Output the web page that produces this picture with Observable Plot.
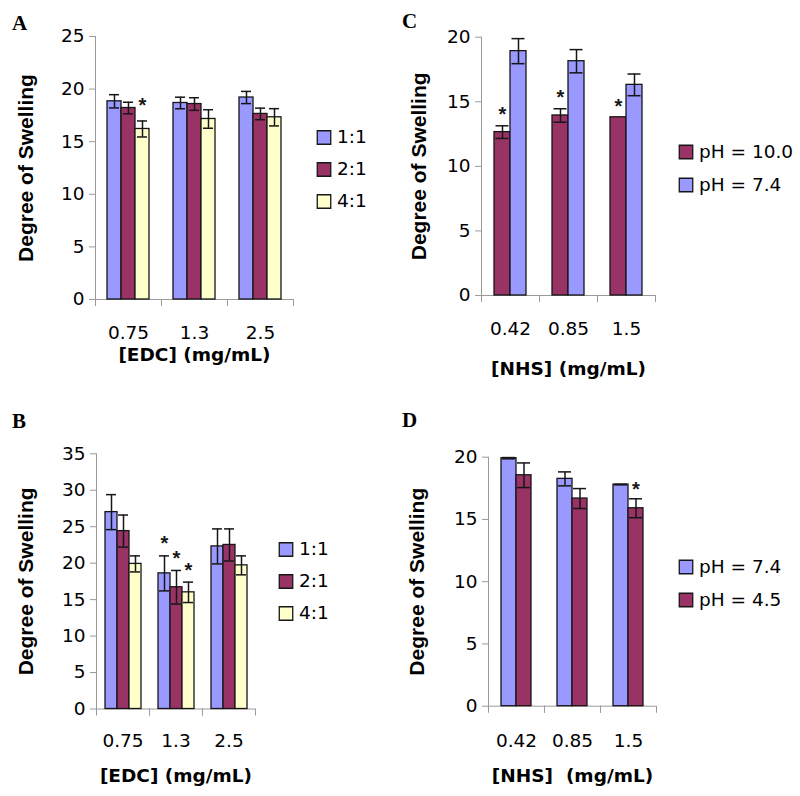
<!DOCTYPE html>
<html>
<head>
<meta charset="utf-8">
<script src="https://cdn.jsdelivr.net/npm/d3@7"></script>
<script src="https://cdn.jsdelivr.net/npm/@observablehq/plot@0.6"></script>
<style>
  html, body { margin: 0; padding: 0; background: #fff; }
  #fig { position: relative; width: 800px; height: 796px; overflow: hidden; background: #fff;
         font-family: "DejaVu Sans", sans-serif; }
  .slot { position: absolute; white-space: nowrap; }
  .slot svg { overflow: visible; max-width: none !important; }
  .letter { position: absolute; font-family: "Liberation Serif", "Times New Roman", serif;
            font-weight: bold; font-size: 21px; line-height: 1; color: #000; }
  g[aria-label="y-axis label"] text {
    font-family: "Liberation Sans", Arial, sans-serif; font-weight: bold; font-size: 21px; }
  g[aria-label="fx-axis label"] text {
    font-family: "DejaVu Sans", sans-serif; font-weight: bold; font-size: 18.5px; }
</style>
</head>
<body>
<div id="fig"></div>
<script>
// ---------- categories, series, labels ----------
const edcLevels = ["0.75", "1.3", "2.5"];
const nhsLevels = ["0.42", "0.85", "1.5"];
const ratioSeries = ["1:1", "2:1", "4:1"];
const phSeriesC = ["pH = 10.0", "pH = 7.4"];
const phSeriesD = ["pH = 7.4", "pH = 4.5"];
const yTitle = "Degree of Swelling";
const xTitleEDC = "[EDC] (mg/mL)";
const xTitleNHS = "[NHS] (mg/mL)";
const xTitleNHS2 = "[NHS]\u00a0 (mg/mL)";

// ---------- Panel A : ratio series vs [EDC] ----------
const aMean11 = [18.84, 18.68, 19.20];
const aErr11  = [0.63, 0.55, 0.58];
const aMean21 = [18.20, 18.58, 17.64];
const aErr21  = [0.55, 0.60, 0.55];
const aMean41 = [16.21, 17.16, 17.32];
const aErr41  = [0.76, 0.88, 0.82];
const aStar11 = [false, false, false];
const aStar21 = [false, false, false];
const aStar41 = [true, false, false];

// ---------- Panel B : ratio series vs [EDC] ----------
const bMean11 = [27.0, 18.6, 22.3];
const bErr11  = [2.4, 2.4, 2.4];
const bMean21 = [24.4, 16.7, 22.5];
const bErr21  = [2.2, 2.3, 2.2];
const bMean41 = [19.9, 16.0, 19.7];
const bErr41  = [1.1, 1.4, 1.3];
const bStar11 = [false, true, false];
const bStar21 = [false, true, false];
const bStar41 = [false, true, false];

// ---------- Panel C : pH 10.0 vs pH 7.4 over [NHS] ----------
const cMeanPH10 = [12.65, 13.94, 13.80];
const cErrPH10  = [0.49, 0.52, 0];
const cMeanPH74 = [18.92, 18.14, 16.31];
const cErrPH74  = [0.97, 0.90, 0.84];
const cStarPH10 = [true, true, true];
const cStarPH74 = [false, false, false];

// ---------- Panel D : pH 7.4 vs pH 4.5 over [NHS] ----------
const dMeanPH74 = [19.92, 18.26, 17.80];
const dErrPH74  = [0.05, 0.56, 0.02];
const dMeanPH45 = [18.55, 16.68, 15.90];
const dErrPH45  = [0.99, 0.80, 0.76];
const dStarPH74 = [false, false, false];
const dStarPH45 = [false, false, true];

// ---------- palette ----------
const blue = "#9999ff", maroon = "#993366", cream = "#ffffcc";
const ratioColors = [blue, maroon, cream];
const colorsC = [maroon, blue];
const colorsD = [blue, maroon];
const AXIS = "#9a9a9a";
const INK = "#161616";
const TICK_FONT = "DejaVu Sans, sans-serif";

function buildRows(cats, series, means, errs, stars) {
  const out = [];
  series.forEach((s, j) => cats.forEach((c, i) => {
    out.push({cat: c, series: s, value: means[j][i], err: errs[j][i], star: stars[j][i]});
  }));
  return out;
}

const fig = document.getElementById("fig");

function place(node, left, top, w, h) {
  const wrap = document.createElement("div");
  wrap.className = "slot";
  wrap.style.left = left + "px";
  wrap.style.top = top + "px";
  wrap.style.width = w + "px";
  wrap.style.height = h + "px";
  wrap.appendChild(node);
  fig.appendChild(wrap);
}

function drawPanel(o) {
  const W = o.right - o.svgLeft + 10;
  const H = o.svgH;
  const mL = o.axisX - o.svgLeft;
  const mT = o.topY - o.svgTop;
  const mB = o.svgTop + H - o.zeroY;
  const mR = W - (o.right - o.svgLeft);
  const innerH = o.zeroY - o.topY;
  const data = o.rows;
  const withErr = data.filter(d => d.err > 0);
  const chart = Plot.plot({
    width: W, height: H,
    marginLeft: mL, marginRight: mR, marginTop: mT, marginBottom: mB,
    style: {fontFamily: TICK_FONT, fontSize: "18.5px", color: "#000",
            background: "transparent", overflow: "visible", maxWidth: "none"},
    fx: {domain: o.cats, paddingInner: 0, paddingOuter: 0, axis: null},
    x: {domain: o.series, paddingInner: 0, paddingOuter: o.xPad, axis: null},
    y: {domain: [0, o.yMax], axis: null},
    color: {domain: o.series, range: o.colors},
    marks: [
      Plot.ruleY([0], {stroke: AXIS, strokeWidth: 1}),
      Plot.frame({anchor: "left", stroke: AXIS, strokeWidth: 1, facetAnchor: "left"}),
      Plot.frame({anchor: "left", stroke: AXIS, strokeWidth: 1, insetTop: innerH, insetBottom: -6}),
      Plot.frame({anchor: "right", stroke: AXIS, strokeWidth: 1, insetTop: innerH, insetBottom: -6}),
      Plot.axisY(d3.range(0, o.yMax + 1, 5), {
        tickSize: 6, tickPadding: 5, stroke: AXIS, fill: "#000", fontSize: 18.5, fontFamily: TICK_FONT,
        label: yTitle, labelAnchor: "center", labelOffset: o.yLabelOffset, labelArrow: false
      }),
      Plot.axisFx({
        anchor: "bottom", tickSize: 0, tickPadding: o.fxPad, fontSize: 18.5, fontFamily: TICK_FONT, fill: "#000",
        label: o.xLabel, labelAnchor: "center", labelOffset: o.fxLabelOffset, labelArrow: false
      }),
      Plot.barY(data, {fx: "cat", x: "series", y: "value", fill: "series", stroke: INK, strokeWidth: 1.3}),
      Plot.ruleX(withErr, {fx: "cat", x: "series", y1: d => d.value - d.err, y2: d => d.value + d.err,
                           stroke: INK, strokeWidth: 1.5}),
      Plot.tickY(withErr, {fx: "cat", x: "series", y: d => d.value + d.err, stroke: INK, strokeWidth: 1.5,
                           insetLeft: o.capInset, insetRight: o.capInset}),
      Plot.tickY(withErr, {fx: "cat", x: "series", y: d => d.value - d.err, stroke: INK, strokeWidth: 1.5,
                           insetLeft: o.capInset, insetRight: o.capInset}),
      Plot.text(data.filter(d => d.star), {fx: "cat", x: "series", y: d => d.value + d.err, text: () => "*",
                           dy: o.starDy, fontSize: 20, fontWeight: "bold", fill: INK,
                           fontFamily: "Liberation Sans, Arial, sans-serif"})
    ]
  });
  place(chart, o.svgLeft, o.svgTop, W, H);
}

function drawLegend(o) {
  const H = o.step * o.series.length;
  const W = 120;
  const chart = Plot.plot({
    width: W, height: H, margin: 0,
    style: {fontFamily: TICK_FONT, fontSize: "18.5px", color: "#000",
            background: "transparent", overflow: "visible", maxWidth: "none"},
    x: {axis: null},
    y: {type: "band", domain: o.series, padding: 0, axis: null},
    color: {domain: o.series, range: o.colors},
    marks: [
      Plot.dot(o.series, {y: d => d, frameAnchor: "left", dx: 7.5, symbol: "square", r: 7.6,
                          fill: d => d, stroke: INK, strokeWidth: 1.3}),
      Plot.text(o.series, {y: d => d, text: d => d, frameAnchor: "left", dx: 20.5, textAnchor: "start",
                           fontSize: 18.5, fontFamily: TICK_FONT, fill: "#000"})
    ]
  });
  place(chart, o.left, o.top, W, H);
}

function letter(t, left, top) {
  const d = document.createElement("div");
  d.className = "letter";
  d.textContent = t;
  d.style.left = left + "px";
  d.style.top = top + "px";
  fig.appendChild(d);
}

// Panel A
drawPanel({
  rows: buildRows(edcLevels, ratioSeries, [aMean11, aMean21, aMean41], [aErr11, aErr21, aErr41], [aStar11, aStar21, aStar41]),
  cats: edcLevels, series: ratioSeries, colors: ratioColors, xLabel: xTitleEDC,
  svgLeft: 0, svgTop: 0, svgH: 384, axisX: 94, topY: 36, zeroY: 299, right: 293, yMax: 25,
  xPad: 0.71, capInset: 2, starDy: -15, yLabelOffset: 77, fxPad: 26, fxLabelOffset: 61.5
});
drawLegend({series: ratioSeries, colors: ratioColors, left: 316, top: 121, step: 32});
letter("A", 12, 13);

// Panel B
drawPanel({
  rows: buildRows(edcLevels, ratioSeries, [bMean11, bMean21, bMean41], [bErr11, bErr21, bErr41], [bStar11, bStar21, bStar41]),
  cats: edcLevels, series: ratioSeries, colors: ratioColors, xLabel: xTitleEDC,
  svgLeft: 0, svgTop: 400, svgH: 390, axisX: 96, topY: 453.3, zeroY: 708.5, right: 255, yMax: 35,
  xPad: 0.68, capInset: 1, starDy: -12, yLabelOffset: 78, fxPad: 24.7, fxLabelOffset: 73
});
drawLegend({series: ratioSeries, colors: ratioColors, left: 278, top: 532, step: 32.5});
letter("B", 12, 411);

// Panel C
drawPanel({
  rows: buildRows(nhsLevels, phSeriesC, [cMeanPH10, cMeanPH74], [cErrPH10, cErrPH74], [cStarPH10, cStarPH74]),
  cats: nhsLevels, series: phSeriesC, colors: colorsC, xLabel: xTitleNHS,
  svgLeft: 400, svgTop: 0, svgH: 390, axisX: 481, topY: 36.7, zeroY: 295, right: 655, yMax: 20,
  xPad: 0.8, capInset: 1.5, starDy: -11, yLabelOffset: 70, fxPad: 26.5, fxLabelOffset: 79
});
drawLegend({series: phSeriesC, colors: colorsC, left: 678, top: 135, step: 33.3});
letter("C", 402, 11);

// Panel D
drawPanel({
  rows: buildRows(nhsLevels, phSeriesD, [dMeanPH74, dMeanPH45], [dErrPH74, dErrPH45], [dStarPH74, dStarPH45]),
  cats: nhsLevels, series: phSeriesD, colors: colorsD, xLabel: xTitleNHS2,
  svgLeft: 400, svgTop: 400, svgH: 390, axisX: 487, topY: 456.7, zeroY: 705.7, right: 656, yMax: 20,
  xPad: 0.76, capInset: 1, starDy: -9, yLabelOffset: 79, fxPad: 27.5, fxLabelOffset: 76
});
drawLegend({series: phSeriesD, colors: colorsD, left: 678, top: 550, step: 33.3});
letter("D", 402, 410);
</script>
</body>
</html>
